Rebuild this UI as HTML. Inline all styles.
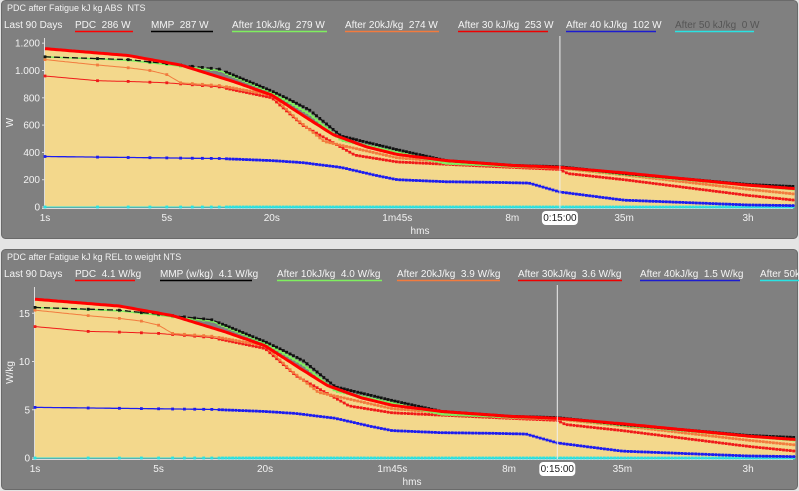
<!DOCTYPE html>
<html><head><meta charset="utf-8"><style>
body{margin:0;width:799px;height:491px;background:#e4e4e4;overflow:hidden;font-family:"Liberation Sans",sans-serif}
svg{position:absolute;left:0;top:0}
</style></head><body>
<svg id="s" width="799" height="491" xmlns="http://www.w3.org/2000/svg" font-family="Liberation Sans, sans-serif"></svg>
<script>
const S=document.getElementById('s');let h='';
function seg(pts,fx,fy){return pts.map((p,i)=>(i?'L':'M')+fx(p[0]).toFixed(1)+','+fy(p[1]).toFixed(1)).join('');}
function interp(pts,t){const l=Math.log10(t);for(let i=0;i<pts.length-1;i++){const a=Math.log10(pts[i][0]),b=Math.log10(pts[i+1][0]);if(l>=a&&l<=b){const f=(l-a)/(b-a);return pts[i][1]+f*(pts[i+1][1]-pts[i][1]);}}return pts[pts.length-1][1];}
function smooth(pts){const o=[];let t=1;while(t<=20000){o.push([t,interp(pts,t)]);t*=1.03;}o.push([20000,interp(pts,20000)]);return o;}
const PDC=[[1,1160],[3,1110],[6,1040],[12,920],[20,820],[32,650],[45,530],[70,440],[105,385],[200,340],[480,305],[900,290],[2100,250],[10800,160],[20000,135]];
const MMP=[[1,1100],[3,1080],[10,1010],[20,850],[25,790],[33,710],[50,520],[105,420],[200,340],[480,305],[900,295],[2100,245],[10800,165],[20000,150]];
const G10=[[1,1100],[3,1075],[10,1000],[20,840],[25,770],[33,680],[50,490],[105,400],[200,320],[480,300],[900,290],[2100,240],[10800,160],[20000,130]];
const O20=[[1,1080],[2,1040],[3,1020],[4,1000],[5,970],[6,910],[10,890],[20,820],[28,640],[40,480],[105,360],[480,295],[900,285],[2100,235],[10800,130],[20000,95]];
const R30=[[1,960],[2,925],[3,920],[5,910],[10,880],[20,800],[30,600],[60,380],[105,330],[480,290],[900,275],[1000,245],[2100,200],[10800,85],[20000,50]];
const B40=[[1,370],[10,355],[20,340],[30,325],[50,290],[80,230],[105,200],[200,185],[400,180],[600,175],[900,110],[2100,50],[10800,15],[20000,10]];
const C50=[[1,0],[20000,0]];
function panel(y0,opt){
 const {title,leg,x0,tpx,yz,ypx,ticks,fact,ylab,xlY}=opt;
 h+=`<rect x="1.5" y="${y0+0.5}" width="796" height="${opt.ph}" rx="4" fill="#808080" stroke="#6a6a6a"/>`;
 h+=`<text x="7" y="${y0+11}" font-size="9" fill="#f2f2f2" xml:space="preserve">${title}</text>`;
 leg.forEach(l=>{h+=`<text x="${l[0]}" y="${y0+28}" font-size="10" fill="${l[3]||'#f4f4f4'}" xml:space="preserve">${l[1]}</text>`;if(l[2])h+=`<line x1="${l[0]}" x2="${l[0]+l[4]}" y1="${y0+31.5}" y2="${y0+31.5}" stroke="${l[2]}" stroke-width="1.5"/>`;});
 const fx=t=>x0+Math.log10(t)*tpx, fy=v=>yz-v*fact*ypx;
 const xr=793;
 h+=`<line x1="${x0-0.5}" x2="${x0-0.5}" y1="${y0+38}" y2="${yz+2}" stroke="#dcdcdc"/>`;
 h+=`<line x1="${x0-3}" x2="${xr}" y1="${yz+1.5}" y2="${yz+1.5}" stroke="#dcdcdc"/>`;
 ticks.forEach(t=>{const y=yz-t[0]*ypx;h+=`<text x="${x0-5}" y="${y+3.5}" font-size="10" fill="#f2f2f2" text-anchor="end">${t[1]}</text><line x1="${x0-3}" x2="${x0}" y1="${y}" y2="${y}" stroke="#ddd"/>`;});
 const ly=(y0+38+yz)/2;
 h+=`<text x="10" y="${ly}" font-size="10" fill="#f2f2f2" transform="rotate(-90 10 ${ly})" text-anchor="middle" dy="3">${ylab}</text>`;
 const pd=smooth(PDC);
 h+=`<path d="${seg(pd,fx,fy)}L${fx(20000)},${yz}L${fx(1)},${yz}Z" fill="#f3d88c"/>`;
 const ser=[[C50,'#29e3e3',1],[B40,'#1c1cf0',1.3],[R30,'#f01a1a',1],[O20,'#f27b3e',1],[G10,'#7fef5f',1.5],[MMP,'#111',1.3]];
 ser.forEach(s=>{
  const d=smooth(s[0]);h+=`<path d="${seg(d,fx,fy)}" fill="none" stroke="${s[1]}" stroke-width="${s[2]}" ${s[0]===MMP?'stroke-dasharray="6,3"':''}/>`;
  let ts=[1,2,3,4,5,6,7,8,9,10];let t=11;while(t<20000){ts.push(t);t*=1.045;}
  ts.forEach(t=>{h+=`<rect x="${(fx(t)-1.4).toFixed(1)}" y="${(fy(interp(s[0],t))-1.4).toFixed(1)}" width="2.8" height="2.8" fill="${s[1]}"/>`;});
 });
 h+=`<path d="${seg(pd,fx,fy)}" fill="none" stroke="#f00" stroke-width="3"/>`;
 const xv=fx(900);
 h+=`<line x1="${xv}" x2="${xv}" y1="${y0+36}" y2="${yz+1}" stroke="#eee" stroke-width="1"/>`;
 [[1,'1s'],[5,'5s'],[20,'20s'],[105,'1m45s'],[480,'8m'],[2100,'35m'],[10800,'3h']].forEach(l=>{h+=`<text x="${fx(l[0])}" y="${xlY}" font-size="10" fill="#f2f2f2" text-anchor="middle">${l[1]}</text>`;});
 h+=`<rect x="${xv-18}" y="${xlY-10}" width="36" height="14" rx="4" fill="#fff"/><text x="${xv}" y="${xlY}" font-size="10" fill="#222" text-anchor="middle">0:15:00</text>`;
 h+=`<text x="${opt.hmsX}" y="${xlY+13}" font-size="10" fill="#f2f2f2" text-anchor="middle">hms</text>`;
}
panel(0,{ph:238,title:'PDC after Fatigue kJ kg ABS  NTS',x0:45,tpx:174.3,yz:207,ypx:27.3/200,fact:1,ylab:'W',xlY:221,hmsX:420,
 ticks:[[0,'0'],[200,'200'],[400,'400'],[600,'600'],[800,'800'],[1000,'1.000'],[1200,'1.200']],
 leg:[[4,'Last 90 Days'],[75,'PDC  286 W','#f00',0,58],[151,'MMP  287 W','#000',0,62],[232,'After 10kJ/kg  279 W','#7fef5f',0,95],[345,'After 20kJ/kg  274 W','#f27b3e',0,94],[458,'After 30 kJ/kg  253 W','#e00',0,90],[566,'After 40 kJ/kg  102 W','#1c1cd0',0,90],[675,'After 50 kJ/kg  0 W','#29e3e3','#555',79]].map(l=>[l[0],l[1],l[2],l[3]||undefined,l[4]])});
panel(249,{ph:240,title:'PDC after Fatigue kJ kg REL to weight NTS',x0:35,tpx:176.8,yz:458,ypx:9.65,fact:1/70.5,ylab:'W/kg',xlY:472,hmsX:412,
 ticks:[[0,'0'],[5,'5'],[10,'10'],[15,'15']],
 leg:[[4,'Last 90 Days'],[75,'PDC  4.1 W/kg','#f00',0,60],[160,'MMP (w/kg)  4.1 W/kg','#000',0,92],[277,'After 10kJ/kg  4.0 W/kg','#7fef5f',0,105],[397,'After 20kJ/kg  3.9 W/kg','#f27b3e',0,103],[518,'After 30kJ/kg  3.6 W/kg','#e00',0,104],[640,'After 40kJ/kg  1.5 W/kg','#1c1cd0',0,100],[760,'After 50k','#29e3e3',0,40]].map(l=>[l[0],l[1],l[2],l[3]||undefined,l[4]])});
S.innerHTML=h;
</script>
</body></html>
